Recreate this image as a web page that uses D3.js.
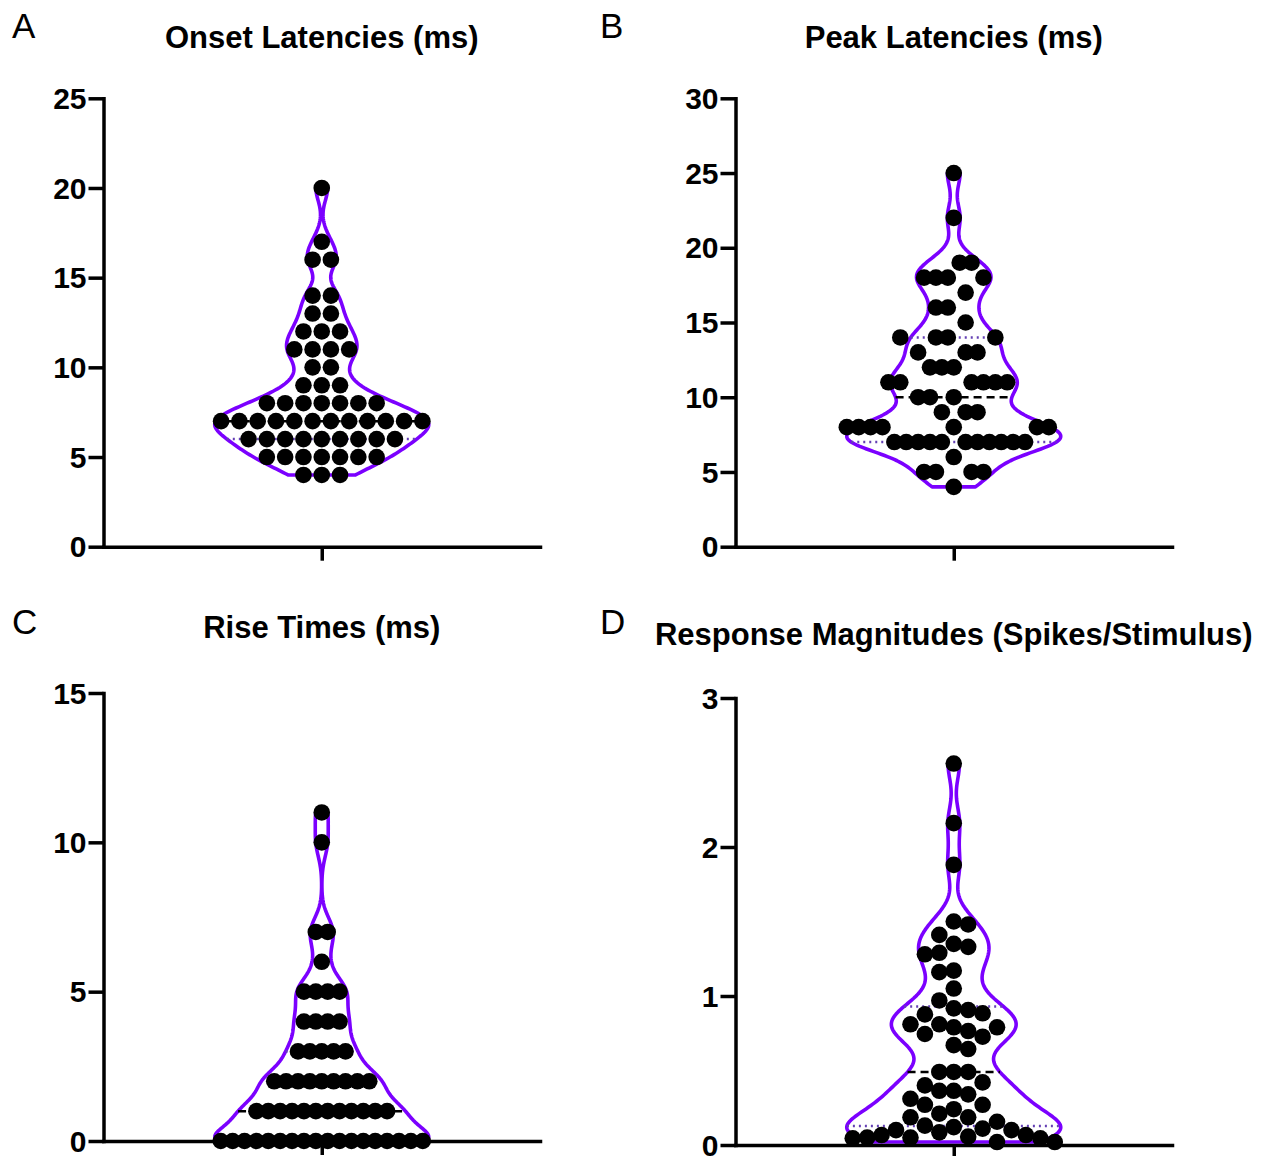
<!DOCTYPE html>
<html>
<head>
<meta charset="utf-8">
<script src="https://cdn.jsdelivr.net/npm/d3@7"></script>
<style>
  body { margin: 0; background: #fff; }
  svg text { font-family: "Liberation Sans", Arial, Helvetica, sans-serif; }
</style>
</head>
<body>
<div id="chart"></div>
<script>
// values, one entry per cell
var onsetLatency = [4,4,4, 5,5,5,5,5,5,5, 6,6,6,6,6,6,6,6,6, 7,7,7,7,7,7,7,7,7,7,7,7,
  8,8,8,8,8,8,8, 9,9,9, 10,10, 11,11,11,11, 12,12,12, 13,13, 14,14, 16,16, 17, 20];
var peakLatency = [4, 5,5,5,5, 6, 7,7,7,7,7,7,7,7,7,7,7, 8,8,8,8,8,8,8, 9,9,9, 10,10,10,
  11,11,11,11,11,11, 12,12,12, 13,13,13, 14,14,14,14, 15, 16,16, 17, 18,18,18,18, 19,19, 22, 25];
var riseTime = [0,0,0,0,0,0,0,0,0,0,0,0,0,0,0,0,0,0, 1,1,1,1,1,1,1,1,1,1,1,1,
  2,2,2,2,2,2,2,2,2, 3,3,3,3,3, 4,4,4,4, 5,5,5,5, 6, 7,7, 10, 11];
var responseMagnitude = [2.56, 2.16, 1.88, 1.50, 1.48, 1.41, 1.35, 1.33, 1.29, 1.28, 1.17, 1.16,
  1.05, 0.97, 0.917, 0.906, 0.884, 0.877, 0.81, 0.81, 0.79, 0.79, 0.765, 0.745, 0.727, 0.67,
  0.644, 0.49, 0.49, 0.49, 0.42, 0.40, 0.364, 0.364, 0.34, 0.31, 0.27, 0.27, 0.24, 0.21,
  0.186, 0.186, 0.156, 0.13, 0.12, 0.11, 0.10, 0.10, 0.085, 0.067, 0.067, 0.056, 0.05, 0.05,
  0.045, 0.045, 0.02, 0.02];

var letters = ["A", "B", "C", "D"];
var titles = ["Onset Latencies (ms)", "Peak Latencies (ms)", "Rise Times (ms)",
  "Response Magnitudes (Spikes/Stimulus)"];
var onsetTicks = [0, 5, 10, 15, 20, 25];
var peakTicks = [0, 5, 10, 15, 20, 25, 30];
var riseTicks = [0, 5, 10, 15];
var magnitudeTicks = [0, 1, 2, 3];

var W = 1264, H = 1156;
var dotR = 8.3
  , slotNat = 18.3      // natural horizontal spacing between dots
  , collide = 17.8      // min centre distance when packing
  , maxSpan = 202       // widest row must fit this
  , maxHalf = 107;      // half width of violin at its widest

var panels = [
  {values: onsetLatency, ticks: onsetTicks, axisX: 103.5, xRight: 540, yTop: 98.3, yBot: 546.7,
   titleY: 48, letterX: 12, letterY: 38, rows: true},
  {values: peakLatency, ticks: peakTicks, axisX: 735.5, xRight: 1172, yTop: 98.3, yBot: 546.7,
   titleY: 48, letterX: 600, letterY: 38, rows: true},
  {values: riseTime, ticks: riseTicks, axisX: 103.5, xRight: 540, yTop: 693, yBot: 1141,
   titleY: 638, letterX: 12, letterY: 634, rows: true},
  {values: responseMagnitude, ticks: magnitudeTicks, axisX: 735.5, xRight: 1172, yTop: 698, yBot: 1145,
   titleY: 645, letterX: 600, letterY: 634, rows: false}
];

var svg = d3.select("#chart").append("svg")
  .attr("width", W)
  .attr("height", H)
  .style("background", "#fff");

function quantile(sorted, p) {
  // (n+1) percentile rule
  var n = sorted.length, pos = p * (n + 1);
  if (pos <= 1) return sorted[0];
  if (pos >= n) return sorted[n - 1];
  var lo = Math.floor(pos), f = pos - lo;
  return sorted[lo - 1] + f * (sorted[lo] - sorted[lo - 1]);
}

function kde(values, bw) {
  return function(v) {
    var s = 0;
    values.forEach(function(x) {
      var z = (v - x) / bw;
      s += Math.exp(-0.5 * z * z);
    });
    return s;
  };
}

// greedy swarm: each dot goes to the free slot nearest the centre
function swarm(values, y, rows) {
  var placed = [], slot = new Array(values.length), toggle = true;
  var groups = [];
  if (rows) {
    var byVal = d3.group(d3.range(values.length), function(i) { return values[i]; });
    byVal.forEach(function(idx) { groups.push(idx); });
    groups.sort(function(a, b) { return values[a[0]] - values[b[0]]; });
  } else {
    values.forEach(function(v, i) { groups.push([i]); });
  }
  groups.forEach(function(g) {
    var parity = g.length % 2 === 0 ? 0.5 : 0;
    var cands = d3.range(-40, 41).map(function(k) { return k + parity; });
    g.forEach(function(i) {
      var yi = y(values[i]);
      var order = cands.slice().sort(function(a, b) {
        var d = Math.abs(a) - Math.abs(b);
        if (Math.abs(d) > 1e-9) return d;
        return toggle ? b - a : a - b;
      });
      for (var c = 0; c < order.length; c++) {
        var x = order[c], ok = true;
        for (var j = 0; j < placed.length; j++) {
          var dx = (x - placed[j].x) * slotNat, dy = yi - placed[j].y;
          if (dx * dx + dy * dy < collide * collide) { ok = false; break; }
        }
        if (ok) {
          slot[i] = x;
          placed.push({x: x, y: yi});
          break;
        }
      }
      toggle = !toggle;
    });
  });
  return slot;
}

panels.forEach(function(p, pi) {
  var vals = p.values;
  var sorted = vals.slice().sort(d3.ascending);
  var lo = sorted[0], hi = sorted[sorted.length - 1];

  var y = d3.scaleLinear()
    .domain([0, d3.max(p.ticks)])
    .range([p.yBot, p.yTop]);

  var x = d3.scalePoint()
    .domain([""])
    .range([p.axisX, p.xRight])
    .padding(0.5);
  var cx = x("");

  var g = svg.append("g");

  // violin
  var sd = d3.deviation(vals);
  var bw = 0.45 * sd * Math.pow(vals.length, -0.2);
  var dens = kde(vals, bw);
  var grid = d3.range(0, 241).map(function(i) { return lo + (hi - lo) * i / 240; });
  var maxD = d3.max(grid, dens);
  var half = function(v) { return maxHalf * dens(v) / maxD; };

  var outline = grid.map(function(v) { return [cx + half(v), y(v)]; })
    .concat(grid.slice().reverse().map(function(v) { return [cx - half(v), y(v)]; }));

  g.append("path")
    .attr("d", d3.line()(outline) + "Z")
    .attr("fill", "none")
    .attr("stroke", "#7b00ff")
    .attr("stroke-width", 3.6)
    .attr("stroke-linejoin", "round");

  // quartiles and median
  [0.25, 0.75].forEach(function(q) {
    var v = quantile(sorted, q);
    g.append("line")
      .attr("x1", cx - half(v)).attr("x2", cx + half(v))
      .attr("y1", y(v)).attr("y2", y(v))
      .attr("stroke", "#6440b4")
      .attr("stroke-width", 2.5)
      .attr("stroke-dasharray", "2,4");
  });
  var med = quantile(sorted, 0.5);
  g.append("line")
    .attr("x1", cx - half(med)).attr("x2", cx + half(med))
    .attr("y1", y(med)).attr("y2", y(med))
    .attr("stroke", "#000")
    .attr("stroke-width", 2.5)
    .attr("stroke-dasharray", "8,5");

  // axes
  var yAxis = d3.axisLeft(y).tickValues(p.ticks).tickFormat(d3.format("d"))
    .tickSize(15).tickSizeOuter(0).tickPadding(2);
  var ya = g.append("g")
    .attr("transform", "translate(" + p.axisX + ",0)")
    .call(yAxis);
  ya.select(".domain").attr("stroke-width", 3.5).attr("stroke-linecap", "square");
  ya.selectAll(".tick line").attr("stroke-width", 3.5);
  ya.selectAll(".tick text")
    .attr("dy", "0.34em")
    .style("font-family", "'Liberation Sans', Arial, sans-serif")
    .style("font-size", "30px")
    .style("font-weight", "bold")
    .attr("fill", "#000");

  var xAxis = d3.axisBottom(x).tickSize(14).tickSizeOuter(0).tickFormat("");
  var xa = g.append("g")
    .attr("transform", "translate(0," + p.yBot + ")")
    .call(xAxis);
  xa.select(".domain").attr("stroke-width", 3.5).attr("stroke-linecap", "square");
  xa.selectAll(".tick line").attr("stroke-width", 3.5);

  // dots
  var slots = swarm(vals, y, p.rows);
  var span = d3.max(slots) - d3.min(slots);
  var step = span > 0 ? Math.min(slotNat, maxSpan / span) : slotNat;

  g.selectAll("circle.dot")
    .data(vals)
    .enter()
    .append("circle")
    .attr("class", "dot")
    .attr("cx", function(d, i) { return cx + slots[i] * step; })
    .attr("cy", function(d) { return y(d); })
    .attr("r", dotR)
    .attr("fill", "#000");

  // title and panel letter
  g.append("text")
    .attr("x", cx)
    .attr("y", p.titleY)
    .attr("text-anchor", "middle")
    .style("font-size", "31px")
    .style("font-weight", "bold")
    .text(titles[pi]);

  g.append("text")
    .attr("x", p.letterX)
    .attr("y", p.letterY)
    .style("font-size", "35px")
    .text(letters[pi]);
});
</script>
</body>
</html>
